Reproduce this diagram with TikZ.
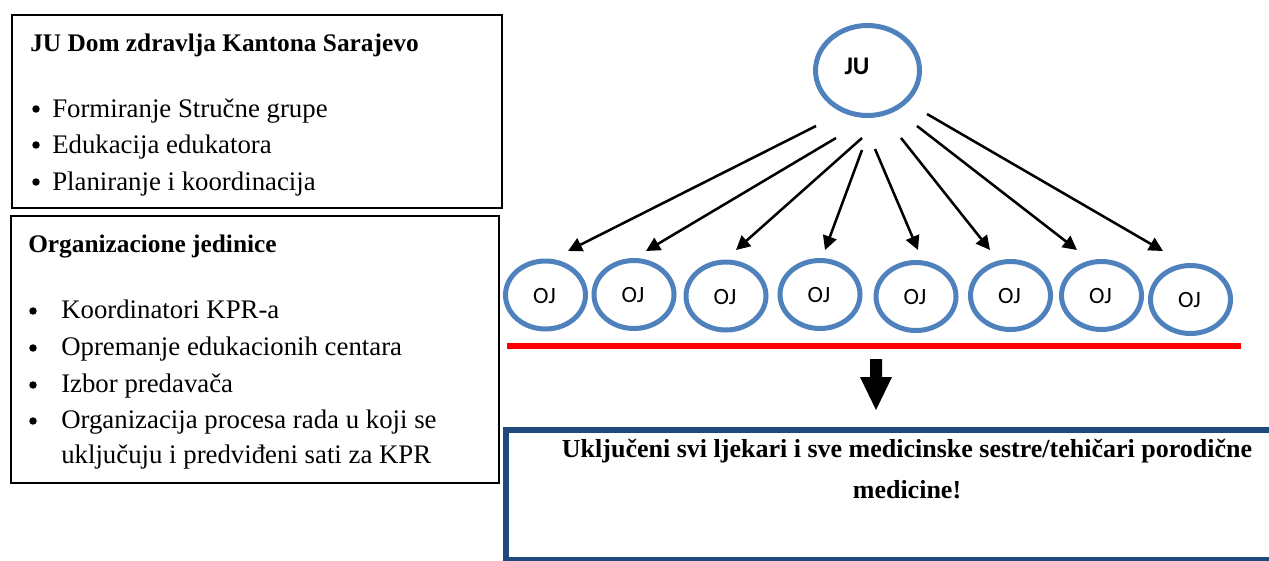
\documentclass[tikz,border=0pt]{standalone}
\usepackage{fontspec}
\setmainfont{Liberation Serif}
\newfontfamily\calib{Carlito}
\usetikzlibrary{arrows.meta,shapes.geometric}
\definecolor{ojblue}{HTML}{4F81BD}
\definecolor{boxblue}{HTML}{1F497D}
\begin{document}
\begin{tikzpicture}[x=0.75pt,y=-0.75pt,
  txt/.style={anchor=base west,inner sep=0pt,font=\fontsize{20.1}{23}\selectfont},
  ttl/.style={anchor=base west,inner sep=0pt,font=\fontsize{19}{23}\selectfont\bfseries},
  restxt/.style={anchor=base,inner sep=0pt,font=\fontsize{19.5}{23}\selectfont\bfseries},
  ojell/.style={ellipse,draw=ojblue,line width=3.75pt,minimum width=60pt,minimum height=51pt,inner sep=0pt},
  ojtxt/.style={inner sep=0pt,font=\calib\fontsize{17.5}{18}\selectfont},
  conn/.style={line width=1.9pt,-{Triangle[length=10.5pt,width=10.5pt]}},
  bul/.style={fill=black}]
\useasboundingbox (0,0) rectangle (1269,560);
% left boxes
\node[draw,line width=1.5pt,anchor=north west,minimum width=367.5pt,minimum height=144.75pt,inner sep=0pt] (box1) at (11,14) {};
\node[draw,line width=1.5pt,anchor=north west,minimum width=366pt,minimum height=200.25pt,inner sep=0pt] (box2) at (10,215) {};
\node[ttl] (t1) at (30,51) {JU Dom zdravlja Kantona Sarajevo};
\node[txt] (i11) at (52,117) {Formiranje Stručne grupe};
\node[txt] (i12) at (52,153) {Edukacija edukatora};
\node[txt] (i13) at (52,190) {Planiranje i koordinacija};
\foreach \y in {117,153,190} \fill[bul] (36,\y-8) circle (2.8pt);
\node[ttl] (t2) at (28,252) {Organizacione jedinice};
\node[txt] (i21) at (61,318) {Koordinatori KPR-a};
\node[txt] (i22) at (61,355) {Opremanje edukacionih centara};
\node[txt] (i23) at (61,392) {Izbor predavača};
\node[txt] (i24) at (61,428) {Organizacija procesa rada u koji se};
\node[txt] (i25) at (61,463) {uključuju i predviđeni sati za KPR};
\foreach \y in {318,355,392,428} \fill[bul] (33,\y-7) circle (2.8pt);
% JU
\node[ellipse,draw=ojblue,line width=3.75pt,minimum width=78pt,minimum height=67.5pt,inner sep=0pt] (ju) at (867.5,70.5) {};
\node[inner sep=0pt,font=\calib\fontsize{19}{20}\selectfont\bfseries] (jut) at (857,66) {JU};
% OJ
\foreach \i/\x/\y in {1/545.5/295,2/634/294.5,3/726/296,4/820/294.5,5/916/296.5,6/1010.5/295.5,7/1101.5/295.5,8/1190.5/299.5}{
  \node[ojell] (oj\i) at (\x,\y) {};
  \node[ojtxt] (ojt\i) at (\x-1,\y+1) {OJ};
}
% arrow coordinates
\coordinate (s1) at (816,126); \coordinate (e1) at (568,251);
\coordinate (s2) at (836,138); \coordinate (e2) at (646,251);
\coordinate (s3) at (862,138); \coordinate (e3) at (736,250);
\coordinate (s4) at (862,150); \coordinate (e4) at (825,250);
\coordinate (s5) at (875,149); \coordinate (e5) at (918,250);
\coordinate (s6) at (901,138); \coordinate (e6) at (990,250);
\coordinate (s7) at (917,126); \coordinate (e7) at (1077,250);
\coordinate (s8) at (927,114); \coordinate (e8) at (1163,251);
\foreach \i in {1,...,8} \draw[conn] (s\i) -- (e\i);
% red line
\coordinate (rl) at (507,345.5); \coordinate (rr) at (1241,345.5);
\draw[red,line width=4.5pt] (rl) -- (rr);
% down block arrow
\fill (870,359) -- (882,359) -- (882,377) -- (892,377) -- (876,410) -- (860,377) -- (870,377) -- cycle;
% result box
\node[draw=boxblue,line width=4.5pt,anchor=north west,minimum width=590pt,minimum height=97.5pt,inner sep=0pt] (res) at (503,427) {};
\node[restxt] (r1) at (907,457) {Uključeni svi ljekari i sve medicinske sestre/tehičari porodične};
\node[restxt] (r2) at (907,498) {medicine!};
\end{tikzpicture}
\end{document}
